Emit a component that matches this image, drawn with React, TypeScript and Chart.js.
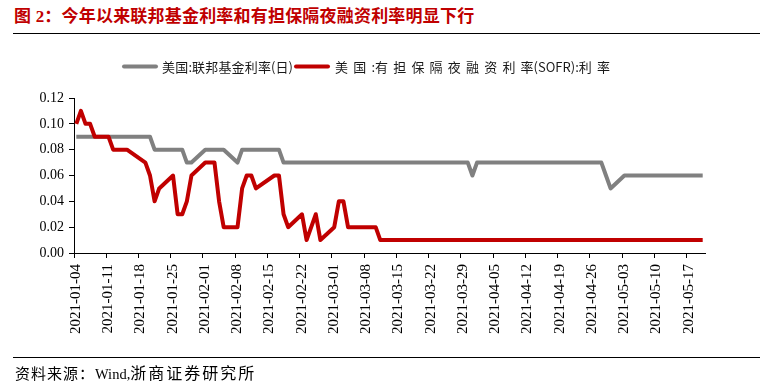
import React, { useEffect, useRef } from 'react';
import { Chart, registerables } from 'chart.js';

Chart.register(...registerables);

// Business days (data dates)
const dates = [
  '2021-01-04', '2021-01-05', '2021-01-06', '2021-01-07', '2021-01-08',
  '2021-01-11', '2021-01-12', '2021-01-13', '2021-01-14', '2021-01-15',
  '2021-01-19', '2021-01-20', '2021-01-21', '2021-01-22',
  '2021-01-25', '2021-01-26', '2021-01-27', '2021-01-28', '2021-01-29',
  '2021-02-01', '2021-02-02', '2021-02-03', '2021-02-04', '2021-02-05',
  '2021-02-08', '2021-02-09', '2021-02-10', '2021-02-11', '2021-02-12',
  '2021-02-16', '2021-02-17', '2021-02-18', '2021-02-19',
  '2021-02-22', '2021-02-23', '2021-02-24', '2021-02-25', '2021-02-26',
  '2021-03-01', '2021-03-02', '2021-03-03', '2021-03-04', '2021-03-05',
  '2021-03-08', '2021-03-09', '2021-03-10', '2021-03-11', '2021-03-12',
  '2021-03-15', '2021-03-16', '2021-03-17', '2021-03-18', '2021-03-19',
  '2021-03-22', '2021-03-23', '2021-03-24', '2021-03-25', '2021-03-26',
  '2021-03-29', '2021-03-30', '2021-03-31',
  '2021-04-01', '2021-04-02',
  '2021-04-05', '2021-04-06', '2021-04-07', '2021-04-08', '2021-04-09',
  '2021-04-12', '2021-04-13', '2021-04-14', '2021-04-15', '2021-04-16',
  '2021-04-19', '2021-04-20', '2021-04-21', '2021-04-22', '2021-04-23',
  '2021-04-26', '2021-04-27', '2021-04-28', '2021-04-29', '2021-04-30',
  '2021-05-03', '2021-05-04', '2021-05-05', '2021-05-06', '2021-05-07',
  '2021-05-10', '2021-05-11', '2021-05-12', '2021-05-13', '2021-05-14',
  '2021-05-17', '2021-05-18', '2021-05-19', '2021-05-20',
];

// 美国:联邦基金利率(日)
const fedFunds = [
  0.09, 0.09, 0.09, 0.09, 0.09,
  0.09, 0.09, 0.09, 0.09, 0.09,
  0.09, 0.09, 0.08, 0.08,
  0.08, 0.08, 0.08, 0.07, 0.07,
  0.08, 0.08, 0.08, 0.08, 0.08,
  0.07, 0.08, 0.08, 0.08, 0.08,
  0.08, 0.08, 0.07, 0.07,
  0.07, 0.07, 0.07, 0.07, 0.07,
  0.07, 0.07, 0.07, 0.07, 0.07,
  0.07, 0.07, 0.07, 0.07, 0.07,
  0.07, 0.07, 0.07, 0.07, 0.07,
  0.07, 0.07, 0.07, 0.07, 0.07,
  0.07, 0.07, 0.06,
  0.07, 0.07,
  0.07, 0.07, 0.07, 0.07, 0.07,
  0.07, 0.07, 0.07, 0.07, 0.07,
  0.07, 0.07, 0.07, 0.07, 0.07,
  0.07, 0.07, 0.07, 0.06, 0.05,
  0.06, 0.06, 0.06, 0.06, 0.06,
  0.06, 0.06, 0.06, 0.06, 0.06,
  0.06, 0.06, 0.06, 0.06,
];

// 美国:有担保隔夜融资利率(SOFR):利率
const sofr = [
  0.10, 0.11, 0.10, 0.10, 0.09,
  0.09, 0.08, 0.08, 0.08, 0.08,
  0.07, 0.06, 0.04, 0.05,
  0.06, 0.03, 0.03, 0.04, 0.06,
  0.07, 0.07, 0.07, 0.04, 0.02,
  0.02, 0.05, 0.06, 0.06, 0.05,
  0.06, 0.06, 0.03, 0.02,
  0.03, 0.01, 0.02, 0.03, 0.01,
  0.02, 0.04, 0.04, 0.02, 0.02,
  0.02, 0.02, 0.02, 0.01, 0.01,
  0.01, 0.01, 0.01, 0.01, 0.01,
  0.01, 0.01, 0.01, 0.01, 0.01,
  0.01, 0.01, 0.01,
  0.01, 0.01,
  0.01, 0.01, 0.01, 0.01, 0.01,
  0.01, 0.01, 0.01, 0.01, 0.01,
  0.01, 0.01, 0.01, 0.01, 0.01,
  0.01, 0.01, 0.01, 0.01, 0.01,
  0.01, 0.01, 0.01, 0.01, 0.01,
  0.01, 0.01, 0.01, 0.01, 0.01,
  0.01, 0.01, 0.01, 0.01,
];

// Weekly x-axis tick labels
const xTickLabels = [
  '2021-01-04', '2021-01-11', '2021-01-18', '2021-01-25', '2021-02-01',
  '2021-02-08', '2021-02-15', '2021-02-22', '2021-03-01', '2021-03-08',
  '2021-03-15', '2021-03-22', '2021-03-29', '2021-04-05', '2021-04-12',
  '2021-04-19', '2021-04-26', '2021-05-03', '2021-05-10', '2021-05-17',
];
const yMin = 0;
const yMax = 0.12;
const yStep = 0.02;

const seriesNames = ['美国:联邦基金利率(日)', '美国:有担保隔夜融资利率(SOFR):利率'];
const seriesColors = ['#808080', '#c00000'];

const startDate = Date.UTC(2021, 0, 4);
const dayOffset = (s: string) => {
  const [y, m, d] = s.split('-').map(Number);
  return (Date.UTC(y, m - 1, d) - startDate) / 86400000;
};
// axis covers calendar days 2021-01-04 .. 2021-05-20, points placed mid-day
const axisDays = dayOffset('2021-05-20') + 1;

// legend layout (pixel positions of sample lines / texts)
const legendSampleX = [122, 294];
const legendSampleLen = 36;
const legendTextX = [162, 335];
const legendTextW = [131, 275];
const legendY = 66.5;

const isCJK = (ch: string) => /[\u3000-\u9fff\uff00-\uffef]/.test(ch);

const legendPlugin = {
  id: 'topLegend',
  afterDraw(chart: any) {
    const ctx = chart.ctx as CanvasRenderingContext2D;
    const ds = chart.data.datasets;
    ctx.save();
    ds.forEach((d: any, i: number) => {
      const x0 = legendSampleX[i];
      ctx.strokeStyle = d.borderColor;
      ctx.lineWidth = 4;
      ctx.lineCap = 'round';
      ctx.beginPath();
      ctx.moveTo(x0 + 2, legendY);
      ctx.lineTo(x0 + legendSampleLen - 2, legendY);
      ctx.stroke();

      ctx.font = '13px "Noto Sans CJK SC"';
      ctx.fillStyle = '#1a1a1a';
      ctx.textBaseline = 'middle';
      ctx.textAlign = 'left';
      const chars = Array.from(d.label as string);
      const raw = ctx.measureText(d.label).width;
      const spaced = chars.map((ch, k) => isCJK(ch) && k < chars.length - 1 && chars[k + 1] !== '(');
      const nSp = spaced.filter(Boolean).length;
      const extra = Math.max(0, (legendTextW[i] - raw) / Math.max(1, nSp));
      let x = legendTextX[i];
      chars.forEach((ch, k) => {
        ctx.fillText(ch, x, legendY + 0.5);
        x += ctx.measureText(ch).width + (spaced[k] ? extra : 0);
      });
    });
    ctx.restore();
  },
};

export default function App() {
  const canvasRef = useRef<HTMLCanvasElement | null>(null);

  useEffect(() => {
    if (!canvasRef.current) return;
    const toPoints = (vals: number[]) =>
      dates.map((d, i) => ({ x: dayOffset(d) + 0.5, y: vals[i] }));

    const chart = new Chart(canvasRef.current, {
      type: 'line',
      data: {
        datasets: [
          {
            label: seriesNames[0],
            data: toPoints(fedFunds),
            borderColor: seriesColors[0],
            backgroundColor: seriesColors[0],
            borderWidth: 4,
            borderJoinStyle: 'round',
            pointRadius: 0,
            tension: 0,
            order: 1,
          },
          {
            label: seriesNames[1],
            data: toPoints(sofr),
            borderColor: seriesColors[1],
            backgroundColor: seriesColors[1],
            borderWidth: 4,
            borderJoinStyle: 'round',
            pointRadius: 0,
            tension: 0,
            order: 0,
          },
        ],
      },
      options: {
        responsive: false,
        animation: false,
        events: [],
        layout: { padding: { top: 98, right: 55, bottom: 0, left: 0 } },
        plugins: {
          legend: { display: false },
          tooltip: { enabled: false },
        },
        scales: {
          x: {
            type: 'linear',
            min: 0,
            max: axisDays,
            afterFit: (s: any) => {
              s.height = 136;
            },
            grid: {
              display: true,
              drawOnChartArea: false,
              drawTicks: true,
              tickLength: 5,
              color: '#000',
              lineWidth: 1,
            },
            border: { display: true, color: '#000', width: 1 },
            ticks: {
              stepSize: 7,
              includeBounds: false,
              autoSkip: false,
              minRotation: 90,
              maxRotation: 90,
              padding: 6,
              labelOffset: 2,
              color: '#000',
              font: { family: '"Liberation Serif"', size: 15 },
              callback: (v: any) => xTickLabels[Math.round(Number(v) / 7)] ?? '',
            },
          },
          y: {
            min: yMin,
            max: yMax,
            afterFit: (s: any) => {
              s.width = 74;
            },
            grid: {
              display: true,
              drawOnChartArea: false,
              drawTicks: true,
              tickLength: 5,
              color: '#000',
              lineWidth: 1,
            },
            border: { display: true, color: '#000', width: 1 },
            ticks: {
              stepSize: yStep,
              padding: 5,
              color: '#000',
              font: { family: '"Liberation Serif"', size: 14 },
              callback: (v: any) => Number(v).toFixed(2),
            },
          },
        },
      },
      plugins: [legendPlugin],
    });
    return () => chart.destroy();
  }, []);

  return (
    <div
      style={{
        position: 'absolute',
        left: 0,
        top: 0,
        width: 760,
        height: 389,
        background: '#fff',
        overflow: 'hidden',
      }}
    >
      <div
        style={{
          position: 'absolute',
          left: 14,
          top: 7,
          fontSize: 17,
          lineHeight: '20px',
          fontWeight: 'bold',
          color: '#c00000',
          fontFamily: '"Liberation Serif", "Noto Sans CJK SC", serif',
          letterSpacing: '0.2px',
          whiteSpace: 'nowrap',
        }}
      >
        图 2：今年以来联邦基金利率和有担保隔夜融资利率明显下行
      </div>
      <div
        style={{
          position: 'absolute',
          left: 13,
          top: 33,
          width: 747,
          height: 0,
          borderTop: '1px solid #000',
        }}
      />
      <canvas
        ref={canvasRef}
        width={760}
        height={389}
        style={{ position: 'absolute', left: 0, top: 0 }}
      />
      <div
        style={{
          position: 'absolute',
          left: 13,
          top: 357,
          width: 747,
          height: 0,
          borderTop: '1px solid #000',
        }}
      />
      <div
        style={{
          position: 'absolute',
          left: 15,
          top: 363,
          lineHeight: '18px',
          whiteSpace: 'nowrap',
          color: '#000',
        }}
      >
        <span style={{ fontSize: 15, letterSpacing: '1px', fontFamily: '"Noto Sans CJK SC"' }}>
          资料来源：
        </span>
        <span style={{ fontSize: 14.5, fontFamily: '"Liberation Serif"' }}>Wind,</span>
        <span style={{ fontSize: 16, letterSpacing: '2px', fontFamily: '"Noto Sans CJK SC"' }}>
          浙商证券研究所
        </span>
      </div>
    </div>
  );
}
